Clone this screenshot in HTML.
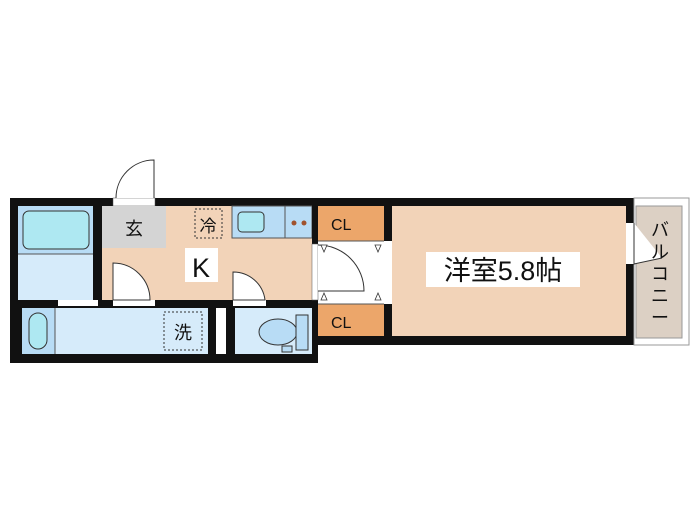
<!DOCTYPE html>
<html><head><meta charset="utf-8"><style>
body{margin:0;background:#fff}
svg{display:block}
text{font-family:"Liberation Sans","Noto Sans CJK JP",sans-serif;fill:#111}
</style></head><body>
<svg width="700" height="525" viewBox="0 0 700 525" xmlns="http://www.w3.org/2000/svg">
<!-- outer walls left block -->
<rect x="10" y="198" width="308" height="165" fill="#111"/>
<!-- entrance door -->
<rect x="113" y="198" width="42" height="8" fill="#fff" stroke="#555" stroke-width="0.5"/>
<path d="M154 198 L154 160 A38 38 0 0 0 116 198" fill="#fff" stroke="#333" stroke-width="1"/>
<!-- bath upper -->
<rect x="18" y="206" width="75" height="94" fill="#d6ebfa"/>
<rect x="18" y="206" width="75" height="48" fill="#b8dcf5"/>
<rect x="23" y="211" width="66" height="38" rx="6" fill="#aee8f2" stroke="#333"/>
<line x1="18" y1="254" x2="93" y2="254" stroke="#555"/>
<!-- kitchen -->
<rect x="102" y="206" width="210" height="94" fill="#f2d3b8"/>
<rect x="102" y="206" width="64" height="42" fill="#d4d4d4"/>
<text x="134" y="235" font-size="18" text-anchor="middle">玄</text>
<rect x="195" y="209" width="27" height="29" fill="none" stroke="#333" stroke-dasharray="2,2"/>
<text x="208" y="232" font-size="17" text-anchor="middle">冷</text>
<rect x="232" y="206" width="53" height="32" fill="#b8dcf5" stroke="#555"/>
<rect x="238" y="212" width="26" height="20" rx="4" fill="#aee8f2" stroke="#333"/>
<rect x="285" y="206" width="27" height="32" fill="#b8dcf5" stroke="#555"/>
<circle cx="294" cy="223" r="2.5" fill="#a0522d"/><circle cx="304" cy="223" r="2.5" fill="#a0522d"/>
<rect x="185" y="248" width="33" height="34" fill="#fff"/>
<text x="201" y="277" font-size="27" text-anchor="middle">K</text>
<!-- door openings bottom of kitchen -->
<rect x="113" y="300" width="42" height="6" fill="#fff"/>
<path d="M113 300 L113 263 A37 37 0 0 1 150 300 Z" fill="#fff" stroke="#333"/>
<rect x="233" y="300" width="33" height="6" fill="#fff"/>
<path d="M233 300 L233 272 A32 32 0 0 1 265 300 Z" fill="#fff" stroke="#333"/>
<rect x="58" y="300" width="40" height="6" fill="#fff"/>
<!-- lower row -->
<rect x="22" y="308" width="186" height="46" fill="#d6ebfa"/>
<rect x="22" y="308" width="33" height="46" fill="#b8dcf5"/>
<rect x="29" y="313" width="18" height="36" rx="9" fill="#aee8f2" stroke="#333"/>
<line x1="55" y1="308" x2="55" y2="354" stroke="#555"/>
<rect x="164" y="312" width="38" height="38" fill="none" stroke="#333" stroke-dasharray="2,2"/>
<text x="183" y="339" font-size="18" text-anchor="middle">洗</text>
<rect x="216" y="308" width="10" height="46" fill="#fff"/>
<rect x="235" y="308" width="77" height="46" fill="#d6ebfa"/>
<ellipse cx="278" cy="332" rx="19" ry="13" fill="#b8dcf5" stroke="#333"/>
<rect x="296" y="315" width="12" height="35" fill="#b8dcf5" stroke="#333"/>
<rect x="282" y="346" width="10" height="6" fill="#b8dcf5" stroke="#333"/>
<!-- right block walls -->
<rect x="312" y="198" width="322" height="147" fill="#111"/>
<rect x="318" y="206" width="66" height="35" fill="#eca66a"/>
<rect x="318" y="304" width="66" height="32" fill="#eca66a"/>
<text x="331" y="230" font-size="16">CL</text>
<text x="331" y="328" font-size="16">CL</text>
<rect x="318" y="241" width="74" height="63" fill="#fff"/>
<rect x="312" y="244" width="6" height="56" fill="#fff" stroke="#555" stroke-width="0.5"/>
<path d="M318 245 A46 46 0 0 1 364 291 L318 291" fill="#fff" stroke="#333"/>
<line x1="318" y1="241" x2="384" y2="241" stroke="#555"/>
<line x1="318" y1="304" x2="384" y2="304" stroke="#555"/>
<path d="M321 245 l6 0 l-3 7 Z M375 245 l6 0 l-3 7 Z M321 300 l6 0 l-3 -7 Z M375 300 l6 0 l-3 -7 Z" fill="#fff" stroke="#333" stroke-width="0.8"/>
<rect x="392" y="206" width="234" height="130" fill="#f2d3b8"/>
<rect x="426" y="252" width="154" height="35" fill="#fff"/>
<text x="503" y="280" font-size="27" text-anchor="middle">洋室5.8帖</text>
<!-- balcony -->
<rect x="634" y="198" width="55" height="147" fill="#fff" stroke="#999"/>
<rect x="636" y="206" width="46" height="132" fill="#dcd0c4" stroke="#999"/>
<rect x="626" y="223" width="8" height="41" fill="#fff"/>
<path d="M634 223 L634 264 L662 258" fill="#fff" stroke="#333"/>
<text font-size="18" transform="translate(651,218)"><tspan x="0" y="18">バ</tspan><tspan x="0" y="40">ル</tspan><tspan x="0" y="62">コ</tspan><tspan x="0" y="84">ニ</tspan><tspan x="0" y="106">ー</tspan></text>
</svg>
</body></html>
